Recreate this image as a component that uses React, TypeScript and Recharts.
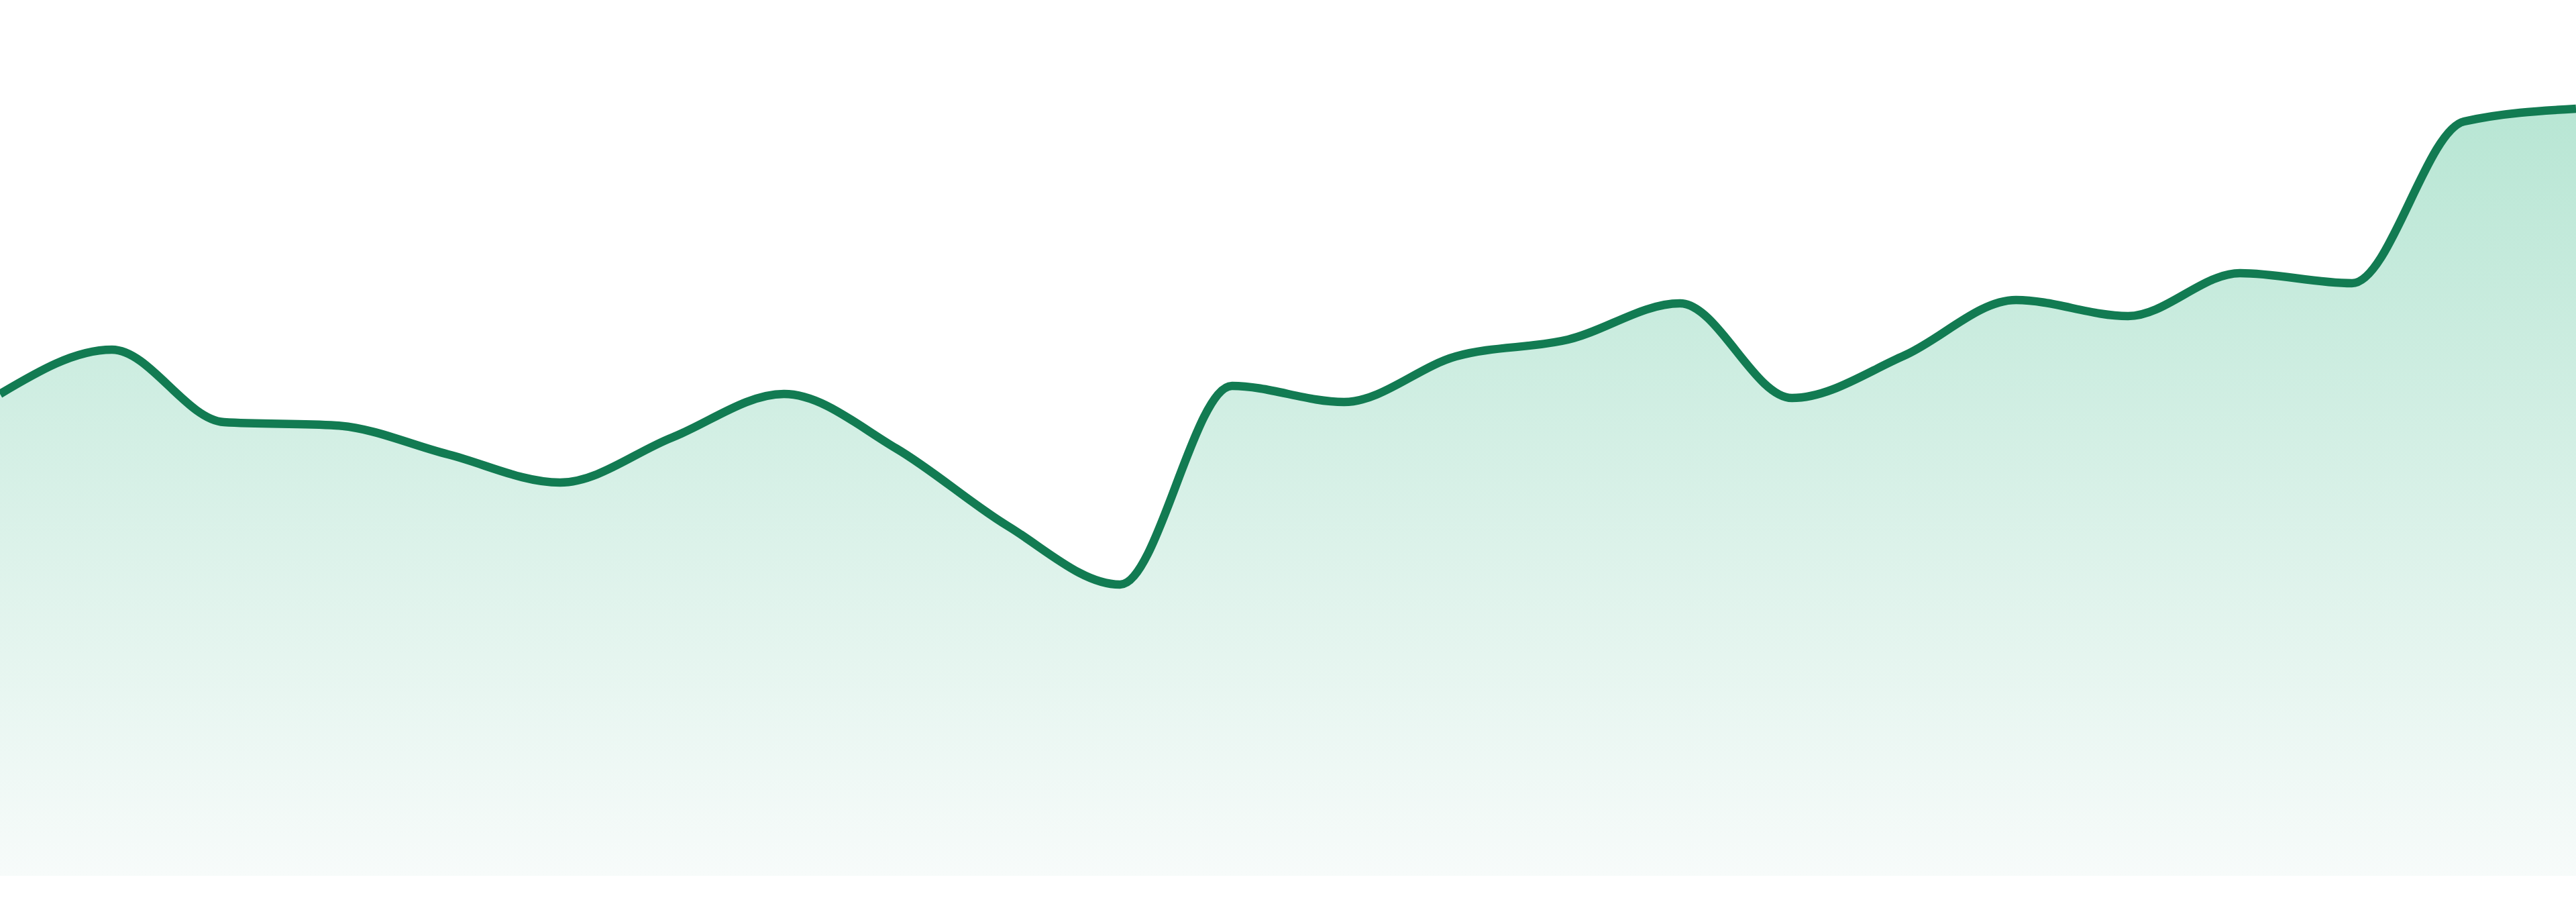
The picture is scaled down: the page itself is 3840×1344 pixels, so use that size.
import React from "react";
import { AreaChart, Area, XAxis, YAxis } from "recharts";

const categories: string[] = [
  "P1", "P2", "P3", "P4", "P5", "P6", "P7", "P8", "P9", "P10", "P11", "P12",
  "P13", "P14", "P15", "P16", "P17", "P18", "P19", "P20", "P21", "P22", "P23", "P24",
];

const seriesValues: number[] = [
  718, 784, 676, 671, 628, 586, 653, 718, 637, 521, 434, 730,
  706, 774, 799, 853, 712, 775, 858, 834, 898, 883, 1124, 1143,
];

const yDomain: [number, number] = [0, 1305];

const data = categories.map((c, i) => ({ name: c, value: seriesValues[i] }));

export default function App() {
  return (
    <div style={{ position: "absolute", left: 0, top: 0, width: 3840, height: 1344, background: "#ffffff" }}>
      <AreaChart
        width={3840}
        height={1344}
        data={data}
        margin={{ top: 0, right: 0, bottom: 39, left: 0 }}
      >
        <defs>
          <linearGradient id="fillGrad" x1="0" y1="0" x2="0" y2="1">
            <stop offset="0%" stopColor="#b8e6d4" stopOpacity={1} />
            <stop offset="100%" stopColor="#f7fbfa" stopOpacity={1} />
          </linearGradient>
        </defs>
        <XAxis dataKey="name" hide />
        <YAxis hide domain={yDomain} />
        <Area
          type="monotone"
          dataKey="value"
          stroke="#127b52"
          strokeWidth={12.5}
          fill="url(#fillGrad)"
          fillOpacity={1}
          dot={false}
          activeDot={false}
          isAnimationActive={false}
        />
      </AreaChart>
    </div>
  );
}
